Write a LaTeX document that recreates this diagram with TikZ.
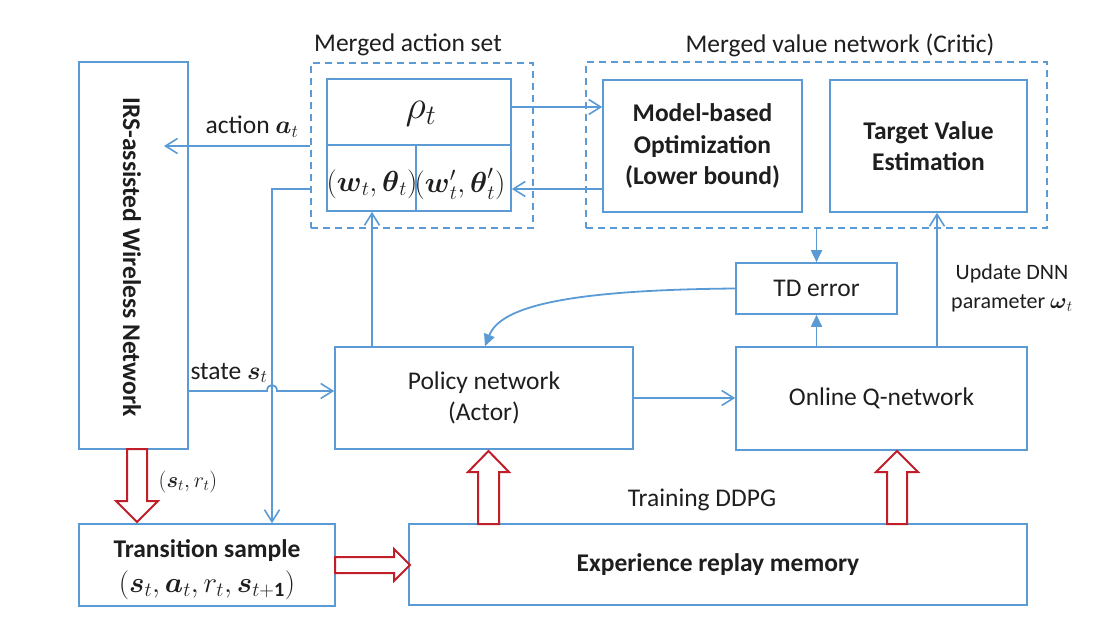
\RequirePackage{fix-cm}
\documentclass[tikz,border=0pt]{standalone}
\usepackage{amsmath}
\usepackage{fontspec}
\setmainfont{Carlito}
\usetikzlibrary{arrows.meta}
\definecolor{lblue}{RGB}{91,155,213}
\definecolor{dred}{RGB}{192,30,40}
\definecolor{txt}{RGB}{30,30,30}
\newcommand\fsmain{\fontsize{25.5}{31.5}\selectfont}
\begin{document}
\begin{tikzpicture}[x=1pt,y=-1pt,
  every node/.style={font=\fsmain, text=txt},
  box/.style={draw=lblue, line width=1.6pt, inner sep=0pt, align=center},
  dbox/.style={draw=lblue, line width=1.6pt, dash pattern=on 7pt off 5pt, inner sep=0pt},
  conn/.style={draw=lblue, line width=1.8pt, -{Straight Barb[length=12pt,width=15pt,line width=1.6pt]}},
  fconn/.style={draw=lblue, line width=1.8pt, -{Triangle[length=12pt,width=11pt]}},
  thin/.style={draw=lblue, line width=1.1pt},
  redarr/.style={draw=dred, line width=2pt, line join=miter},
  lbl/.style={inner sep=0pt, align=center}
]
\useasboundingbox (0,0) rectangle (1118,642);

% boxes
\node[box, minimum width=109pt, minimum height=387pt] (irs) at (133.5,255.5) {};
\node[lbl, rotate=-90, font=\fsmain\bfseries] at (132,257) {IRS-assisted Wireless Network};

\node[dbox, minimum width=222pt, minimum height=165pt] (dashA) at (422,145.5) {};
\node[dbox, minimum width=461pt, minimum height=166pt] (dashV) at (816.5,145) {};

\node[box, minimum width=184pt, minimum height=132pt] (tab) at (419,145) {};
\draw[thin] (tab.west |- 0,145) -- (tab.east |- 0,145);
\draw[thin] (416,145) -- (tab.south -| 416,0);
\node[lbl, font=\fontsize{40}{46}\selectfont] (rho) at (421,114) {$\rho_t$};
\node[lbl, font=\fontsize{29}{34}\selectfont] (wt) at (372,184) {$(\boldsymbol{w}_t, \boldsymbol{\theta}_t)$};
\node[lbl, font=\fontsize{29}{34}\selectfont] (wtp) at (460,184) {$(\boldsymbol{w}'_t, \boldsymbol{\theta}'_t)$};

\node[box, minimum width=199pt, minimum height=132pt, font=\fsmain\bfseries] (model) at (702.5,146) {Model-based\\Optimization\\(Lower bound)};
\node[box, minimum width=197pt, minimum height=132pt, font=\fsmain\bfseries] (target) at (928.5,146) {Target Value\\Estimation};

\node[box, minimum width=161pt, minimum height=51pt] (td) at (816.5,288.5) {TD error};
\node[box, minimum width=298pt, minimum height=102pt] (policy) at (484,398) {Policy network\\(Actor)};
\node[box, minimum width=291pt, minimum height=103pt] (online) at (881.5,398.5) {Online Q-network};

\node[box, minimum width=256pt, minimum height=82pt] (trans) at (207,565) {};
\node[lbl, font=\fsmain\bfseries] at (207,551) {Transition sample};
\node[lbl, font=\fontsize{29}{34}\selectfont] at (207,585) {$(\boldsymbol{s}_t, \boldsymbol{a}_t, r_t, \boldsymbol{s}_{t+\mathbf{1}})$};

\node[box, minimum width=618pt, minimum height=81pt, font=\fsmain\bfseries] (exp) at (718,564.5) {Experience replay memory};

% labels
\node[lbl] at (408,45) {Merged action set};
\node[lbl] at (840,45) {Merged value network (Critic)};
\node[lbl] at (252,127) {action $\boldsymbol{a}_t$};
\node[lbl] at (229,373) {state $\boldsymbol{s}_t$};
\node[lbl, font=\fontsize{22}{26}\selectfont] at (188,482) {$(\boldsymbol{s}_t, r_t)$};
\node[lbl] at (702,500) {Training DDPG};
\node[lbl, font=\fontsize{22}{29}\selectfont] at (1012,288) {Update DNN\\parameter $\boldsymbol{\omega}_t$};

% connectors
\coordinate (acttip) at (164,146);
\draw[conn] (dashA.west |- 0,146) -- (acttip);
\draw[conn] (dashA.west |- 0,189) -| (trans.north -| 272,0);
\draw[conn] (irs.east |- 0,391) -- (267,391) .. controls (267,383) and (277,383) .. (277,391) -- (policy.west |- 0,391);
\draw[conn] (policy.north -| 372,0) -- (tab.south -| 372,0);
\draw[conn] (tab.east |- 0,107) -- (model.west |- 0,107);
\draw[conn] (model.west |- 0,189) -- (tab.east |- 0,189);
\draw[fconn] (dashV.south -| td.north) -- (td.north);
\draw[fconn] (online.north -| td.south) -- (td.south);
\draw[conn] (online.north -| 937,0) -- (target.south -| 937,0);
\draw[fconn] (td.west) .. controls (560,290) and (500,308) .. (policy.north -| 485,0);
\draw[conn] (policy.east) -- (online.west |- policy.east);

% red block arrows
\draw[redarr] (127,449) -- (127,501) -- (116,501) -- (137,522) -- (158,501) -- (147,501) -- (147,449) -- cycle;
\draw[redarr] (335,557) -- (394,557) -- (394,549) -- (410,565) -- (394,581) -- (394,573) -- (335,573) -- cycle;
\draw[redarr] (478,524) -- (478,472) -- (468,472) -- (488.5,451) -- (509,472) -- (499,472) -- (499,524) -- cycle;
\draw[redarr] (887,524) -- (887,472) -- (876,472) -- (897,451) -- (918,472) -- (907,472) -- (907,524) -- cycle;
\end{tikzpicture}
\end{document}
